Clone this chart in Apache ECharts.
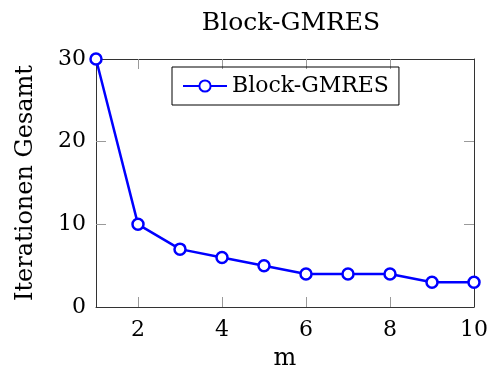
<!DOCTYPE html>
<html><head><meta charset="utf-8">
<script src="https://cdn.jsdelivr.net/npm/echarts@6/dist/echarts.min.js"></script>
<style>html,body{margin:0;padding:0;background:#fff}#c{width:493px;height:376px}</style>
</head><body><div id="c"></div>
<script>
const mValues = [1, 2, 3, 4, 5, 6, 7, 8, 9, 10];
const iterations = [30, 10, 7, 6, 5, 4, 4, 4, 3, 3];
const xTickLabels = [2, 4, 6, 8, 10];
const yTickLabels = [0, 10, 20, 30];
const xTickMarks = [2, 4, 6, 8];
const yTickMarks = [10, 20];
const FONT = 'DejaVu Serif';
const chart = echarts.init(document.getElementById('c'));
const tickStyle = {show: true, inside: true, length: 10, lineStyle: {color: '#9a9a9a', width: 1}};
chart.setOption({
  animation: false,
  title: {text: 'Block-GMRES', left: 286, top: 6, textAlign: 'center',
    textStyle: {fontFamily: FONT, fontSize: 25, fontWeight: 'normal', color: '#000'}},
  grid: {left: 96, right: 19, top: 59, bottom: 68},
  legend: {left: 172, top: 67, width: 200, padding: [8, 10, 8, 10], borderColor: '#000', borderWidth: 1,
    itemWidth: 44, itemHeight: 14, itemGap: 8,
    textStyle: {fontFamily: FONT, fontSize: 22, color: '#000'}},
  xAxis: [
    {type: 'value', min: 1, max: 10, interval: 1, position: 'bottom',
      name: 'm', nameLocation: 'middle', nameGap: 40,
      nameTextStyle: {fontFamily: FONT, fontSize: 24, color: '#000'},
      axisLine: {show: true, onZero: false, lineStyle: {color: '#333', width: 1}},
      axisTick: Object.assign({customValues: xTickMarks}, tickStyle),
      axisLabel: {customValues: xTickLabels, margin: 12, fontFamily: FONT, fontSize: 22, color: '#000'},
      splitLine: {show: false}},
    {type: 'value', min: 1, max: 10, interval: 1, position: 'top',
      axisLine: {show: true, onZero: false, lineStyle: {color: '#333', width: 1}},
      axisTick: Object.assign({customValues: xTickMarks}, tickStyle),
      axisLabel: {show: false}, splitLine: {show: false}}
  ],
  yAxis: [
    {type: 'value', min: 0, max: 30, interval: 10, position: 'left',
      name: 'Iterationen Gesamt', nameLocation: 'middle', nameGap: 58,
      nameTextStyle: {fontFamily: FONT, fontSize: 24, color: '#000'},
      axisLine: {show: true, onZero: false, lineStyle: {color: '#333', width: 1}},
      axisTick: Object.assign({customValues: yTickMarks}, tickStyle),
      axisLabel: {customValues: yTickLabels, margin: 10, fontFamily: FONT, fontSize: 22, color: '#000'},
      splitLine: {show: false}},
    {type: 'value', min: 0, max: 30, interval: 10, position: 'right',
      axisLine: {show: true, onZero: false, lineStyle: {color: '#333', width: 1}},
      axisTick: Object.assign({customValues: yTickMarks}, tickStyle),
      axisLabel: {show: false}, splitLine: {show: false}}
  ],
  series: [{
    name: 'Block-GMRES', type: 'line', xAxisIndex: 0, yAxisIndex: 0,
    data: mValues.map((m, i) => [m, iterations[i]]),
    lineStyle: {color: '#0000ff', width: 2.5},
    symbol: 'circle', symbolSize: 11, showAllSymbol: true,
    itemStyle: {color: '#fff', borderColor: '#0000ff', borderWidth: 2.5},
    clip: false
  }]
});
</script></body></html>
